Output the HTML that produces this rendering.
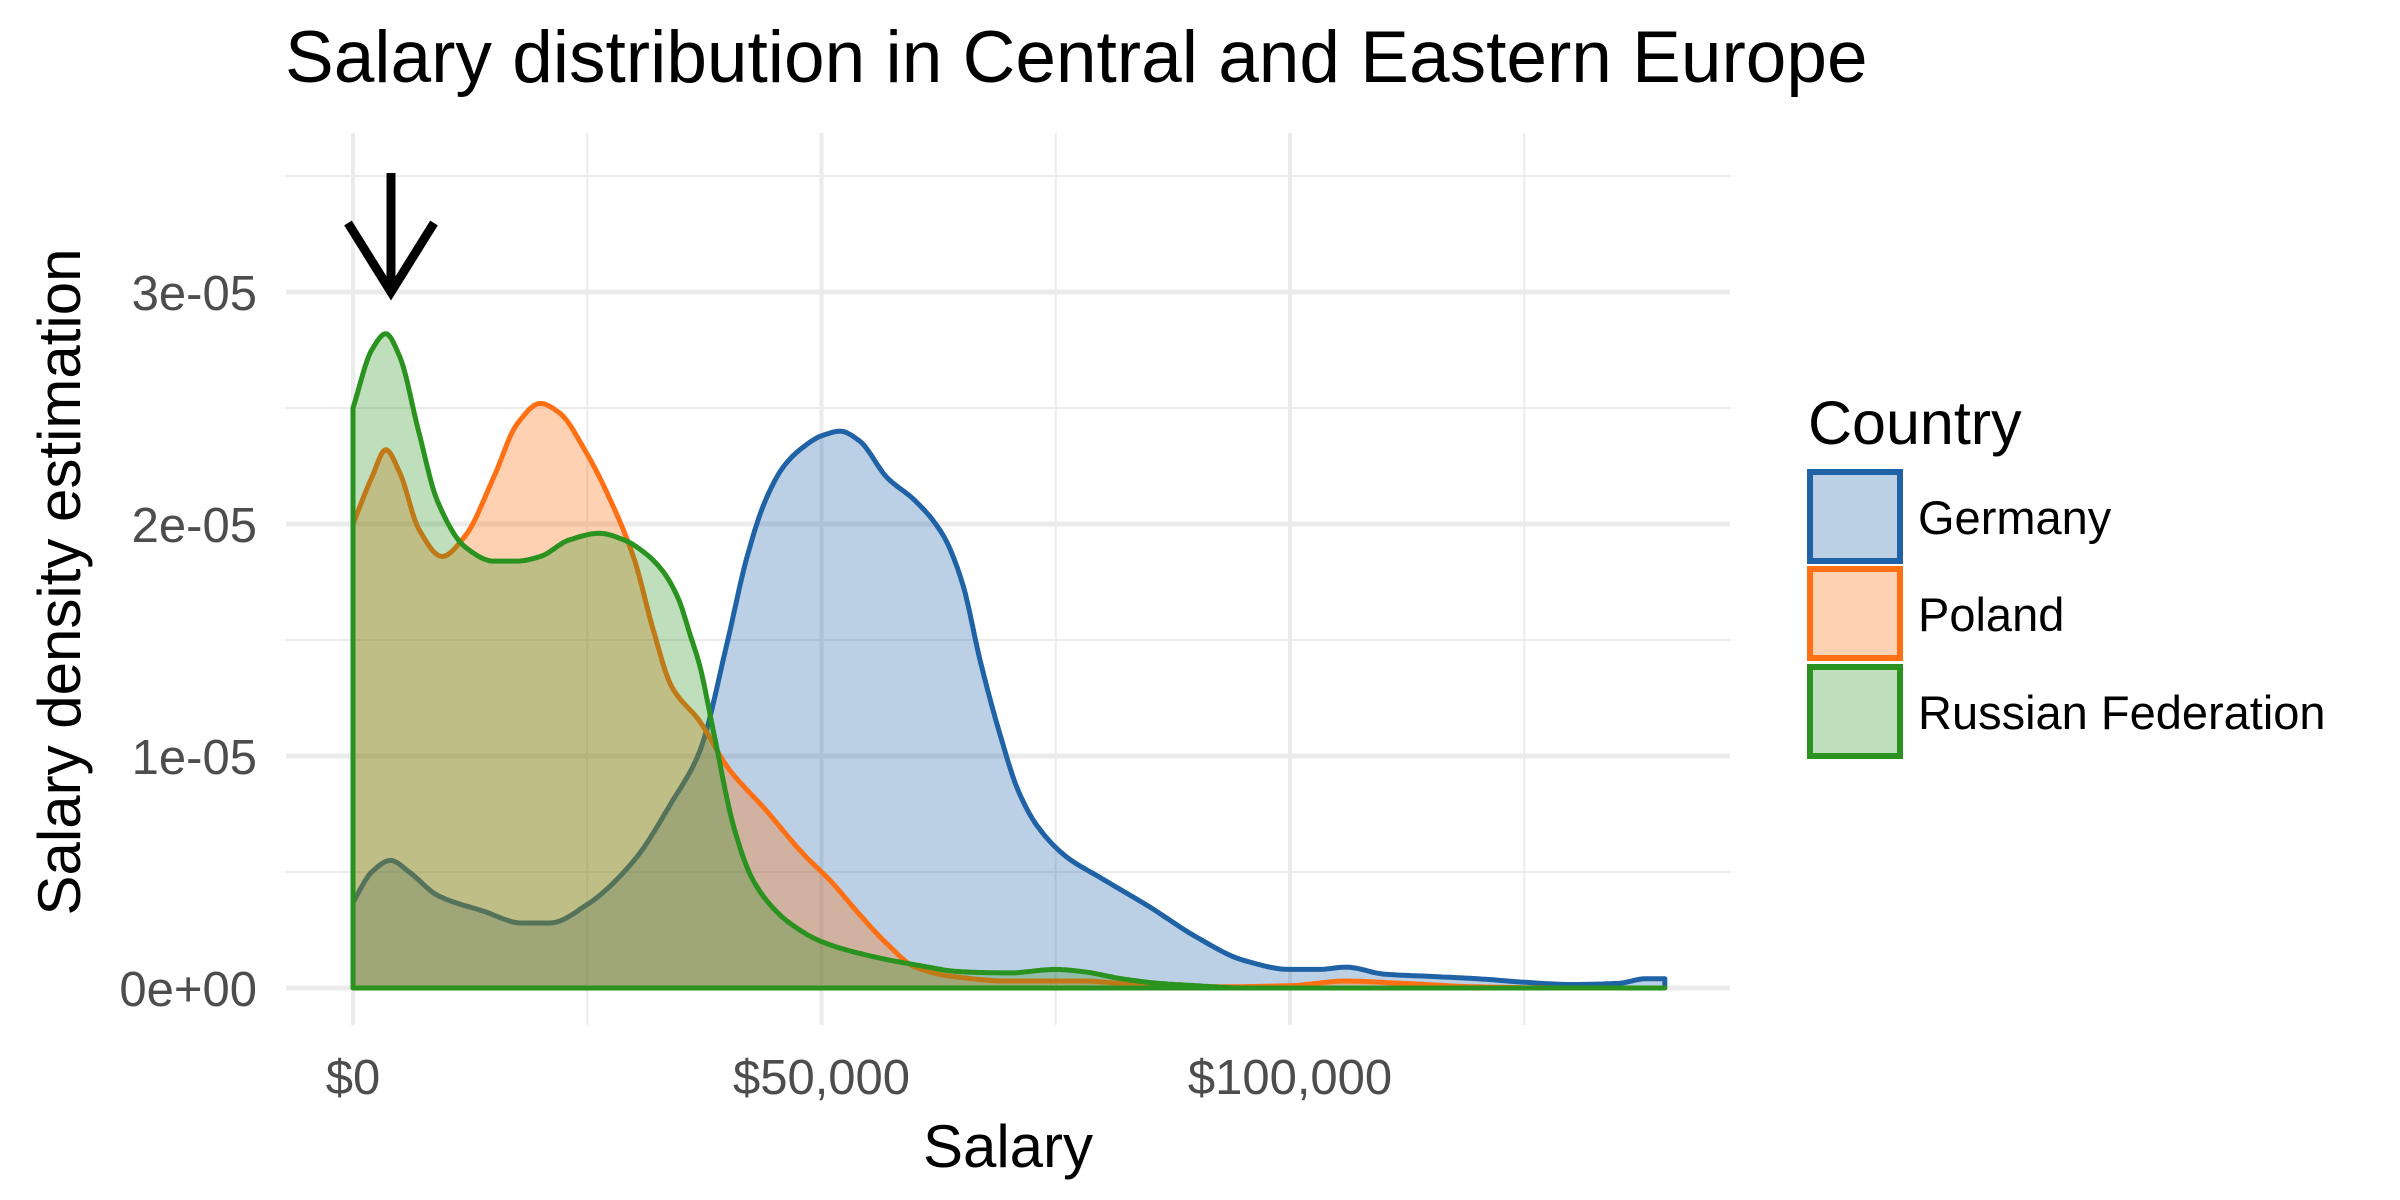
<!DOCTYPE html>
<html><head><meta charset="utf-8"><style>
html,body{margin:0;padding:0;background:#fff;}
svg{display:block;font-family:"Liberation Sans",Arial,sans-serif;}
</style></head><body>
<svg id="chart" width="2400" height="1200" viewBox="0 0 2400 1200">
<text x="285" y="82" font-size="73" fill="#000">Salary distribution in Central and Eastern Europe</text>
<g id="grid"></g>
<g id="series"></g>
<g id="axes"></g>
<g stroke="#000" stroke-width="9" fill="none">
<line x1="391" y1="173" x2="391" y2="292"/>
<polyline points="348,223 391,292 434,223"/>
</g>
<text x="1008" y="1167" font-size="60" text-anchor="middle" fill="#000">Salary</text>
<text transform="translate(80,582) rotate(-90)" font-size="60" text-anchor="middle" fill="#000">Salary density estimation</text>
<g id="legend">
<text x="1808" y="444" font-size="61" fill="#000">Country</text>
</g>
</svg>
<script>
const countries = ["Germany","Poland","Russian Federation"];
const germanyX = [0,2,4,6,9,14,18,21,25,30,34,37,40,42,44,46,48,50,52,54,57,60,63,65,67,69,71,73,76,80,85,90,95,100,103,106,110,115,120,125,130,135,138,140];
const germanyY = [0.37,0.5,0.55,0.5,0.4,0.33,0.28,0.28,0.36,0.55,0.8,1.02,1.5,1.85,2.1,2.25,2.33,2.38,2.4,2.36,2.2,2.1,1.95,1.75,1.4,1.1,0.85,0.7,0.57,0.47,0.35,0.22,0.12,0.08,0.08,0.09,0.06,0.05,0.04,0.025,0.015,0.02,0.04,0.04];
const polandX = [0,2,3.5,5,7,9.5,12,15,17.5,20,22,25,27.5,30,32,34,37,40,44,48,51,54,57,60,64,70,78,85,92,100,106,112,120,130,140];
const polandY = [2.0,2.2,2.32,2.22,1.98,1.86,1.95,2.2,2.43,2.52,2.48,2.3,2.1,1.85,1.55,1.3,1.15,0.95,0.77,0.58,0.46,0.32,0.19,0.09,0.05,0.03,0.03,0.01,0.005,0.01,0.03,0.02,0.005,0,0];
const russiaX = [0,2,3.5,5,7,9,12,15,17.5,20,23,26.3,29,31,33,34.7,36,37,38.5,40.6,42.5,44.5,46.6,50,55,60,65,70,75,78,82,86,90,95,110,125,140];
const russiaY = [2.5,2.75,2.82,2.72,2.4,2.1,1.9,1.84,1.84,1.86,1.93,1.96,1.93,1.88,1.8,1.68,1.52,1.39,1.1,0.7,0.48,0.36,0.28,0.2,0.14,0.1,0.07,0.065,0.08,0.07,0.04,0.02,0.01,0,0,0,0];
const yTicks = [0,1,2,3];
const yTickLabels = ["0e+00","1e-05","2e-05","3e-05"];
const xTicks = [0,50,100];
const xTickLabels = ["$0","$50,000","$100,000"];
const xMinor = [25,75,125];
const yMinor = [0.5,1.5,2.5,3.5];

const NS="http://www.w3.org/2000/svg";
const X0=353, XS=9.37, Y0=988, YS=232;
const PL=286, PR=1730, PT=133, PB=1025;
function sx(v){return X0+v*XS;}
function sy(v){return Y0-v*YS;}
function mk(tag,parent){const e=document.createElementNS(NS,tag);parent.appendChild(e);return e;}
const grid=document.getElementById('grid');
xMinor.forEach(v=>{const l=mk('line',grid);


l.setAttribute('x1',sx(v));l.setAttribute('x2',sx(v));l.setAttribute('y1',PT);l.setAttribute('y2',PB);l.setAttribute('stroke','#ebebeb');l.setAttribute('stroke-width','2');});
yMinor.forEach(v=>{const l=mk('line',grid);


l.setAttribute('x1',PL);l.setAttribute('x2',PR);l.setAttribute('y1',sy(v));l.setAttribute('y2',sy(v));l.setAttribute('stroke','#ebebeb');l.setAttribute('stroke-width','2');});
xTicks.forEach(v=>{const l=mk('line',grid);


l.setAttribute('x1',sx(v));l.setAttribute('x2',sx(v));l.setAttribute('y1',PT);l.setAttribute('y2',PB);l.setAttribute('stroke','#ebebeb');l.setAttribute('stroke-width','4');});
yTicks.forEach(v=>{const l=mk('line',grid);


l.setAttribute('x1',PL);l.setAttribute('x2',PR);l.setAttribute('y1',sy(v));l.setAttribute('y2',sy(v));l.setAttribute('stroke','#ebebeb');l.setAttribute('stroke-width','5');});
const axes=document.getElementById('axes');
yTicks.forEach((v,i)=>{const t=mk('text',axes);


t.setAttribute('x',257);t.setAttribute('y',sy(v)+18);t.setAttribute('text-anchor','end');t.setAttribute('font-size','49');t.setAttribute('fill','#4d4d4d');t.textContent=yTickLabels[i];});
xTicks.forEach((v,i)=>{const t=mk('text',axes);


t.setAttribute('x',sx(v));t.setAttribute('y',1094);t.setAttribute('text-anchor','middle');t.setAttribute('font-size','49');t.setAttribute('fill','#4d4d4d');t.textContent=xTickLabels[i];});

// monotone cubic (Fritsch-Carlson) interpolation, sampled densely
function monoPath(xs,ys){
  const n=xs.length, d=[], m=new Array(n);
  for(let i=0;i<n-1;i++) d.push((ys[i+1]-ys[i])/(xs[i+1]-xs[i]));
  m[0]=d[0]; m[n-1]=d[n-2];
  for(let i=1;i<n-1;i++){
    if(d[i-1]*d[i]<=0) m[i]=0;
    else { const w1=2*(xs[i+1]-xs[i])+(xs[i]-xs[i-1]), w2=(xs[i+1]-xs[i])+2*(xs[i]-xs[i-1]);
      m[i]=(w1+w2)/(w1/d[i-1]+w2/d[i]); }
  }
  let path='M'+sx(xs[0]).toFixed(1)+','+sy(0).toFixed(1);
  for(let i=0;i<n-1;i++){
    const h=xs[i+1]-xs[i];
    for(let s=0;s<=12;s++){
      if(i>0&&s===0) continue;
      const t=s/12, t2=t*t, t3=t2*t;
      const y=(2*t3-3*t2+1)*ys[i]+(t3-2*t2+t)*h*m[i]+(-2*t3+3*t2)*ys[i+1]+(t3-t2)*h*m[i+1];
      path+=' L'+sx(xs[i]+t*h).toFixed(1)+','+sy(Math.max(0,y)).toFixed(1);
    }
  }
  path+=' L'+sx(xs[n-1]).toFixed(1)+','+sy(0).toFixed(1)+' Z';
  return path;
}
const strokes=["#1f62a5","#ff6f14","#2a921f"];
const fills=["rgba(31,98,165,0.3)","rgba(255,111,20,0.32)","rgba(42,146,31,0.3)"];
const dataX=[germanyX,polandX,russiaX], dataY=[germanyY,polandY,russiaY];
const names=['germany-density','poland-density','russia-density'];
const series=document.getElementById('series');
for(let k=0;k<3;k++){
  const p=mk('path',series);
  
  
  p.setAttribute('d',monoPath(dataX[k],dataY[k]));
  p.setAttribute('fill',fills[k]);p.setAttribute('stroke',strokes[k]);p.setAttribute('stroke-width','5');p.setAttribute('stroke-linejoin','round');
}
const legend=document.getElementById('legend');
const keyTops=[469,566,664];
for(let k=0;k<3;k++){
  const r=mk('rect',legend);
  
  
  r.setAttribute('x',1810);r.setAttribute('y',keyTops[k]+3);r.setAttribute('width',90);r.setAttribute('height',89);
  r.setAttribute('fill',fills[k]);r.setAttribute('stroke',strokes[k]);r.setAttribute('stroke-width','6');
  const t=mk('text',legend);
  
  
  t.setAttribute('x',1918);t.setAttribute('y',keyTops[k]+65);t.setAttribute('font-size','47');t.setAttribute('fill','#000');t.textContent=countries[k];
}
</script>
</body></html>
